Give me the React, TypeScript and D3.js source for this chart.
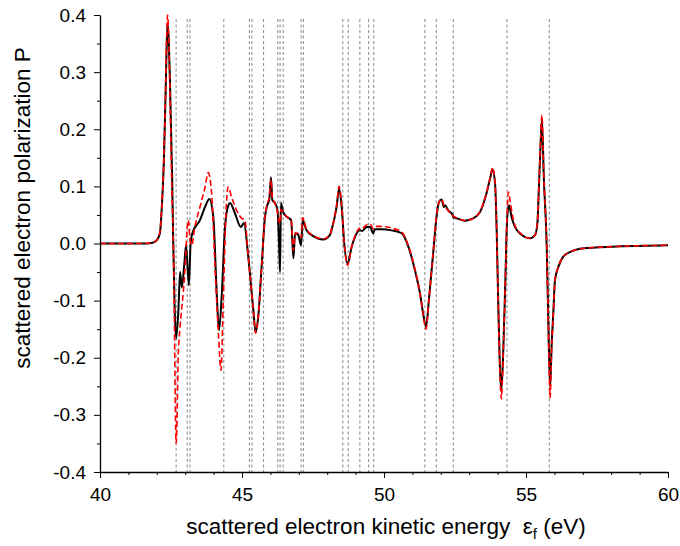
import React, { useEffect, useRef } from 'react';
import * as d3 from 'd3';

// resonance positions (eV), drawn as grey dashed verticals
const resonanceE = [
  42.68, 43.07, 43.17, 44.36, 45.26, 45.35, 45.76, 46.26, 46.34, 46.45, 47.08, 47.16,
  48.55, 48.74, 49.15, 49.46, 49.64, 51.44, 51.84, 52.44, 54.33, 55.82,
];

// black solid curve
const solidE = [
  40.0, 41.5, 41.82, 42.0, 42.11, 42.17, 42.25, 42.31, 42.35, 42.38, 42.46, 42.54, 42.58, 42.63,
  42.68, 42.76, 42.82, 42.88, 42.97, 43.03, 43.13, 43.19, 43.25, 43.52, 43.7, 43.85, 43.99, 44.11,
  44.19, 44.29, 44.4, 44.52, 44.58, 44.75, 44.96, 45.07, 45.22, 45.4, 45.48, 45.57, 45.69, 45.81,
  45.89, 45.96, 46.02, 46.07, 46.16, 46.25, 46.3, 46.34, 46.37, 46.45, 46.57, 46.73, 46.81, 46.87,
  46.98, 47.08, 47.14, 47.27, 47.51, 47.86, 48.1, 48.15, 48.33, 48.42, 48.51, 48.6, 48.72, 48.86,
  49.04, 49.15, 49.23, 49.39, 49.51, 49.62, 49.68, 49.92, 50.27, 50.62, 50.86, 51.09, 51.27, 51.38,
  51.48, 51.58, 51.74, 51.85, 51.94, 52.03, 52.11, 52.15, 52.26, 52.42, 52.44, 52.56, 52.85, 53.14,
  53.38, 53.61, 53.75, 53.82, 53.91, 53.97, 54.02, 54.08, 54.13, 54.2, 54.27, 54.34, 54.4, 54.49,
  54.61, 54.85, 55.14, 55.32, 55.4, 55.46, 55.52, 55.56, 55.63, 55.73, 55.78, 55.85, 55.9, 55.96,
  56.02, 56.14, 56.31, 56.55, 56.9, 57.14, 58.31, 60.0,
];
const solidP = [
  0.0, 0.0, 0.001, 0.006, 0.018, 0.058, 0.146, 0.263, 0.351, 0.384, 0.291, 0.116, 0.0, -0.117,
  -0.166, -0.117, -0.05, -0.077, -0.035, -0.003, -0.073, 0.0, 0.018, 0.041, 0.064, 0.078, 0.046, -0.087,
  -0.152, -0.087, 0.028, 0.067, 0.071, 0.053, 0.029, 0.036, -0.023, -0.117, -0.155, -0.129, -0.041, 0.047,
  0.067, 0.076, 0.116, 0.076, 0.071, 0.058, 0.006, -0.05, 0.071, 0.055, 0.047, 0.041, -0.026, 0.018,
  0.015, -0.003, 0.041, 0.023, 0.013, 0.007, 0.015, 0.023, 0.064, 0.096, 0.064, 0.0, -0.035, -0.006,
  0.018, 0.023, 0.022, 0.029, 0.029, 0.018, 0.025, 0.025, 0.023, 0.018, -0.006, -0.047, -0.088, -0.123,
  -0.146, -0.099, -0.012, 0.047, 0.073, 0.077, 0.064, 0.067, 0.058, 0.05, 0.046, 0.044, 0.04, 0.044,
  0.055, 0.088, 0.117, 0.13, 0.105, 0.018, -0.099, -0.216, -0.257, -0.187, -0.07, 0.047, 0.067, 0.047,
  0.029, 0.015, 0.009, 0.015, 0.035, 0.105, 0.181, 0.216, 0.111, -0.006, -0.123, -0.251, -0.181, -0.123,
  -0.064, -0.041, -0.023, -0.015, -0.009, -0.008, -0.005, -0.003,
];

// red dashed curve
const dashedE = [
  40.0, 41.5, 41.82, 42.0, 42.11, 42.17, 42.25, 42.31, 42.35, 42.38, 42.44, 42.52, 42.61, 42.64,
  42.68, 42.72, 42.75, 42.82, 42.87, 42.93, 43.01, 43.07, 43.11, 43.17, 43.23, 43.34, 43.52, 43.7,
  43.81, 43.93, 44.05, 44.17, 44.26, 44.34, 44.43, 44.51, 44.63, 44.81, 44.99, 45.1, 45.22, 45.4,
  45.48, 45.57, 45.69, 45.81, 45.89, 45.96, 46.02, 46.07, 46.16, 46.25, 46.3, 46.34, 46.37, 46.45,
  46.57, 46.73, 46.81, 46.87, 46.98, 47.08, 47.14, 47.27, 47.51, 47.86, 48.1, 48.15, 48.33, 48.42,
  48.51, 48.6, 48.72, 48.86, 49.04, 49.15, 49.23, 49.39, 49.51, 49.62, 49.68, 49.92, 50.27, 50.62,
  50.86, 51.09, 51.27, 51.38, 51.48, 51.58, 51.74, 51.85, 51.94, 52.03, 52.11, 52.26, 52.44, 52.56,
  52.85, 53.14, 53.38, 53.61, 53.75, 53.82, 53.91, 53.97, 54.02, 54.08, 54.13, 54.2, 54.27, 54.34,
  54.38, 54.44, 54.52, 54.61, 54.85, 55.14, 55.32, 55.4, 55.46, 55.52, 55.56, 55.63, 55.73, 55.78,
  55.85, 55.9, 55.96, 56.02, 56.14, 56.31, 56.55, 56.9, 57.14, 58.31, 60.0,
];
const dashedP = [
  0.0, 0.0, 0.001, 0.006, 0.02, 0.06, 0.15, 0.27, 0.37, 0.4, 0.321, 0.117, -0.087, -0.234,
  -0.35, -0.292, -0.204, -0.146, -0.117, -0.087, -0.029, 0.027, 0.041, 0.006, -0.003, 0.029, 0.064, 0.099,
  0.124, 0.088, -0.041, -0.158, -0.222, -0.099, 0.047, 0.099, 0.082, 0.058, 0.044, 0.041, -0.023, -0.117,
  -0.157, -0.129, -0.041, 0.047, 0.07, 0.08, 0.112, 0.08, 0.07, 0.055, 0.04, 0.035, 0.06, 0.055,
  0.047, 0.04, -0.012, 0.018, 0.018, 0.01, 0.045, 0.025, 0.014, 0.008, 0.016, 0.024, 0.066, 0.1,
  0.066, 0.0, -0.038, -0.006, 0.02, 0.027, 0.026, 0.033, 0.034, 0.026, 0.03, 0.03, 0.027, 0.02,
  -0.004, -0.045, -0.088, -0.125, -0.15, -0.1, -0.012, 0.047, 0.073, 0.078, 0.067, 0.058, 0.048, 0.045,
  0.04, 0.044, 0.056, 0.089, 0.118, 0.133, 0.105, 0.018, -0.1, -0.22, -0.272, -0.19, -0.07, 0.06,
  0.09, 0.075, 0.05, 0.032, 0.016, 0.009, 0.015, 0.037, 0.11, 0.19, 0.225, 0.115, -0.006, -0.125,
  -0.27, -0.19, -0.125, -0.065, -0.041, -0.023, -0.015, -0.009, -0.008, -0.005, -0.003,
];

const xMajor = [40, 45, 50, 55, 60];
const yMajor = [-0.4, -0.3, -0.2, -0.1, 0.0, 0.1, 0.2, 0.3, 0.4];

const FONT = '"Liberation Sans", Arial, sans-serif';

const App = () => {
  const svgRef = useRef<SVGSVGElement>(null);

  useEffect(() => {
    const svg = d3.select(svgRef.current);
    svg.selectAll('*').remove();

    const left = 100, right = 668, top = 15, bottom = 472;

    const x = d3.scaleLinear().domain([40, 60]).range([left, right]);
    const y = d3.scaleLinear().domain([-0.4, 0.4]).range([bottom, top]);

    // resonance markers
    svg.append('g')
      .selectAll('line')
      .data(resonanceE)
      .enter()
      .append('line')
      .attr('x1', d => x(d))
      .attr('x2', d => x(d))
      .attr('y1', 19)
      .attr('y2', bottom)
      .attr('stroke', '#888')
      .attr('stroke-width', 1)
      .attr('stroke-dasharray', '3 2.5');

    const line = d3.line<[number, number]>()
      .x(d => x(d[0]))
      .y(d => y(d[1]))
      .curve(d3.curveMonotoneX);

    svg.append('path')
      .datum(solidE.map((e, i) => [e, solidP[i]] as [number, number]))
      .attr('d', line)
      .attr('fill', 'none')
      .attr('stroke', 'black')
      .attr('stroke-width', 2);

    svg.append('path')
      .datum(dashedE.map((e, i) => [e, dashedP[i]] as [number, number]))
      .attr('d', line)
      .attr('fill', 'none')
      .attr('stroke', '#ff0000')
      .attr('stroke-width', 1.6)
      .attr('stroke-dasharray', '6 3');

    // x axis: minor then major
    svg.append('g')
      .attr('transform', `translate(0,${bottom})`)
      .call(d3.axisBottom(x).ticks(20).tickSize(3).tickSizeOuter(0).tickFormat(() => ''))
      .call(g => g.select('.domain').remove());
    const xa = svg.append('g')
      .attr('transform', `translate(0,${bottom})`)
      .call(d3.axisBottom(x).tickValues(xMajor).tickSize(6).tickSizeOuter(0).tickPadding(10)
        .tickFormat(d => String(d)));

    // y axis
    svg.append('g')
      .attr('transform', `translate(${left},0)`)
      .call(d3.axisLeft(y).tickValues(d3.range(-0.35, 0.4, 0.1)).tickSize(3).tickFormat(() => ''))
      .call(g => g.select('.domain').remove());
    const ya = svg.append('g')
      .attr('transform', `translate(${left},0)`)
      .call(d3.axisLeft(y).tickValues(yMajor).tickSize(6).tickSizeOuter(0).tickPadding(8)
        .tickFormat(d => (+d).toFixed(1)));

    [xa, ya].forEach(g => {
      g.selectAll('text').attr('font-size', 19).attr('font-family', FONT).attr('fill', 'black');
      g.select('.domain').attr('stroke', 'black').attr('stroke-width', 1.3);
    });
    svg.selectAll('.tick line').attr('stroke', 'black');

    // titles
    svg.append('text')
      .attr('transform', 'translate(30,208) rotate(-90)')
      .attr('text-anchor', 'middle')
      .attr('font-family', FONT)
      .attr('font-size', 22.5)
      .text('scattered electron polarization P');

    const xt = svg.append('text')
      .attr('x', 386)
      .attr('y', 534)
      .attr('text-anchor', 'middle')
      .attr('font-family', FONT)
      .attr('font-size', 22.5);
    xt.append('tspan').text('scattered electron kinetic energy\u00a0\u00a0\u03b5');
    xt.append('tspan').attr('font-size', 15).attr('dy', 5).text('f');
    xt.append('tspan').attr('dy', -5).text('\u00a0(eV)');
  }, []);

  return (
    <>
      <style>{'body{margin:0}'}</style>
      <svg ref={svgRef} width={680} height={546} style={{ display: 'block', background: 'white' }} />
    </>
  );
};

export default App;
